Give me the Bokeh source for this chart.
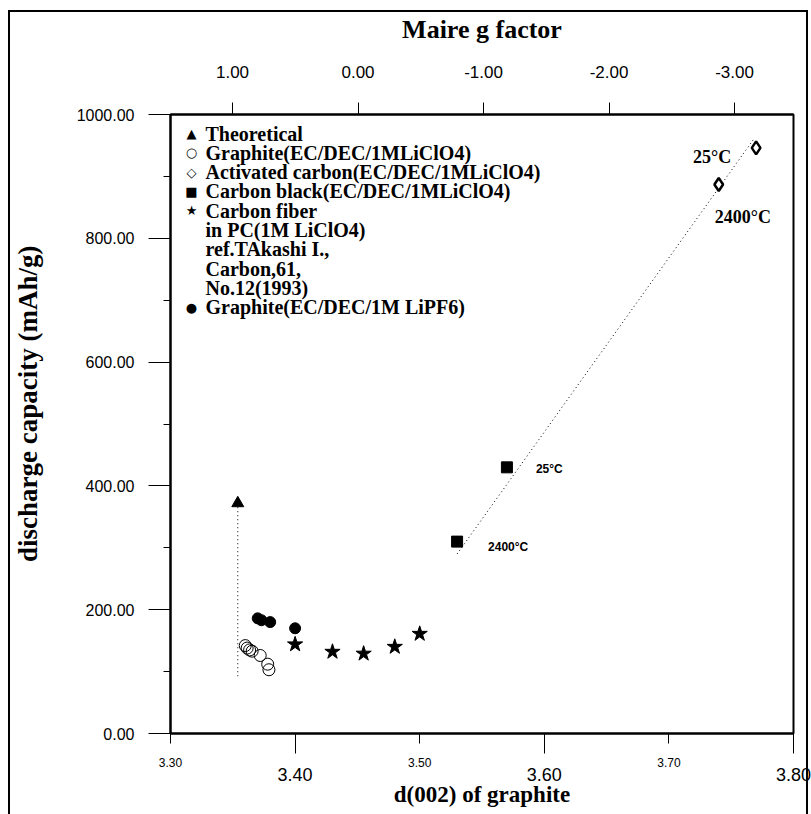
from bokeh.plotting import figure
from bokeh.models import (Range1d, LinearAxis, FixedTicker, NumeralTickFormatter, Label)
from bokeh.embed import file_html
from bokeh.resources import INLINE

# ---------------- data ----------------
theory_d = [3.354]
theory_cap = [372]
theory_line_d = [3.354, 3.354]
theory_line_cap = [372, 90]

graphite_clo4_d = [3.360, 3.3615, 3.3635, 3.3655, 3.372, 3.378, 3.379]
graphite_clo4_cap = [142, 138, 135, 133, 126, 112, 103]

activated_d = [3.770, 3.740]
activated_cap = [946, 887]
activated_temps = ["25°C", "2400°C"]

black_d = [3.570, 3.530]
black_cap = [430, 310]
black_temps = ["25°C", "2400°C"]

fiber_d = [3.400, 3.430, 3.455, 3.480, 3.500]
fiber_cap = [144, 132, 129, 140, 161]

graphite_pf6_d = [3.370, 3.373, 3.380, 3.400]
graphite_pf6_cap = [186, 183, 180, 170]

fit_d = [3.530, 3.768]
fit_cap = [290, 960]

x_lo, x_hi = 3.30, 3.80
y_lo, y_hi = 0, 1000
x_small_ticks = [3.30, 3.50, 3.70]
x_big_ticks = [3.40, 3.60, 3.80]
y_ticks = [0, 200, 400, 600, 800, 1000]
y_minor_ticks = [100, 300, 500, 700, 900]
g_ticks = [1.0, 0.0, -1.0, -2.0, -3.0]

legend_labels = ["Theoretical",
                 "Graphite(EC/DEC/1MLiClO4)",
                 "Activated carbon(EC/DEC/1MLiClO4)",
                 "Carbon black(EC/DEC/1MLiClO4)",
                 "Carbon fiber",
                 "in PC(1M LiClO4)",
                 "ref.TAkashi I.,",
                 "Carbon,61,",
                 "No.12(1993)",
                 "Graphite(EC/DEC/1M LiPF6)"]
legend_symbols = ["▲", "○", "◇", "■", "★", "", "", "", "", "●"]

SERIF = "Liberation Serif"
SANS = "Liberation Sans"

# ---------------- figure ----------------
p = figure(width=811, height=814,
           x_range=Range1d(x_lo, x_hi), y_range=Range1d(y_lo, y_hi),
           output_backend="svg", toolbar_location=None,
           min_border_left=170, min_border_right=18,
           min_border_top=114, min_border_bottom=81)
p.grid.visible = False
p.outline_line_color = "black"
p.outline_line_width = 2
p.background_fill_color = "white"
p.border_fill_color = None
p.styles = {"box-shadow": ("inset 8px 0 0 0 white, inset 0 10px 0 0 white, "
                           "inset -3px 0 0 0 white, inset 10px 0 0 0 black, "
                           "inset 0 12px 0 0 black, inset -5px 0 0 0 black"),
            "background-color": "white"}

# bottom axis: small labels (3.30, 3.50, 3.70) with short ticks, long ticks at 3.40/3.60/3.80
xa = p.xaxis[0]
xa.ticker = FixedTicker(ticks=x_small_ticks, minor_ticks=x_big_ticks)
xa.formatter = NumeralTickFormatter(format="0.00")
xa.axis_line_color = "black"
xa.axis_line_width = 2
xa.major_tick_in = 0
xa.major_tick_out = 10
xa.minor_tick_in = 0
xa.minor_tick_out = 20
xa.major_tick_line_color = "black"
xa.minor_tick_line_color = "black"
xa.major_label_standoff = 4
xa.major_label_text_font = SANS
xa.major_label_text_font_size = "12px"
xa.major_label_text_color = "black"

xa2 = LinearAxis(ticker=FixedTicker(ticks=x_big_ticks),
                 formatter=NumeralTickFormatter(format="0.00"),
                 axis_line_color=None, major_tick_line_color=None,
                 minor_tick_line_color=None, major_tick_in=0, major_tick_out=0,
                 major_label_standoff=-2,
                 major_label_text_font=SANS, major_label_text_font_size="18px",
                 major_label_text_color="black",
                 axis_label="d(002) of graphite", axis_label_standoff=-2,
                 axis_label_text_font=SERIF, axis_label_text_font_style="bold",
                 axis_label_text_font_size="23px", axis_label_text_color="black")
p.add_layout(xa2, "below")

# top axis: Maire g factor
p.extra_x_ranges = {"g": Range1d(start=1.494, end=-3.47)}
ta = LinearAxis(x_range_name="g", ticker=FixedTicker(ticks=g_ticks),
                formatter=NumeralTickFormatter(format="0.00"),
                axis_line_color="black", axis_line_width=2,
                major_tick_in=0, major_tick_out=12, major_tick_line_color="black",
                minor_tick_line_color=None,
                major_label_standoff=25, major_label_text_font=SANS,
                major_label_text_font_size="17px", major_label_text_color="black",
                axis_label="Maire g factor", axis_label_standoff=19,
                axis_label_text_font=SERIF, axis_label_text_font_style="bold",
                axis_label_text_font_size="26px", axis_label_text_color="black")
p.add_layout(ta, "above")

# left axis
ya = p.yaxis[0]
ya.ticker = FixedTicker(ticks=y_ticks, minor_ticks=y_minor_ticks)
ya.formatter = NumeralTickFormatter(format="0.00")
ya.axis_line_color = "black"
ya.axis_line_width = 2
ya.major_tick_in = 0
ya.major_tick_out = 22
ya.minor_tick_in = 0
ya.minor_tick_out = 7
ya.major_tick_line_color = "black"
ya.minor_tick_line_color = "black"
ya.major_label_standoff = 14
ya.major_label_text_font = SANS
ya.major_label_text_font_size = "16px"
ya.major_label_text_color = "black"
ya.axis_label = "\u00a0" * 6 + "discharge capacity (mAh/g)"
ya.axis_label_standoff = 31
ya.axis_label_text_font = SERIF
ya.axis_label_text_font_style = "bold"
ya.axis_label_text_font_size = "27px"
ya.axis_label_text_color = "black"

# ---------------- glyphs ----------------
p.line(theory_line_d, theory_line_cap, line_color="black", line_width=1, line_dash="1 3")
p.line(fit_d, fit_cap, line_color="black", line_width=1, line_dash="1 3")

p.scatter(theory_d, theory_cap, marker="triangle", size=12,
          fill_color="black", line_color="black")
p.scatter(graphite_clo4_d, graphite_clo4_cap, marker="circle", size=12,
          fill_color=None, line_color="black", line_width=1)
p.scatter(activated_d, activated_cap, marker="diamond", size=13,
          fill_color="white", line_color="black", line_width=2.5)
p.scatter(black_d, black_cap, marker="square", size=11,
          fill_color="black", line_color="black")
p.scatter(fiber_d, fiber_cap, marker="star", size=16,
          fill_color="black", line_color="black")
p.scatter(graphite_pf6_d, graphite_pf6_cap, marker="circle", size=11,
          fill_color="black", line_color="black")

# temperature labels anchored at their points
for (d, c, t, dx, dy) in zip(activated_d, activated_cap, activated_temps, [-63, -4], [-9, -33]):
    p.add_layout(Label(x=d, y=c, x_offset=dx, y_offset=dy, text=t,
                       text_align="left", text_baseline="middle",
                       text_font=SERIF, text_font_style="bold",
                       text_font_size="18px", text_color="black"))
for (d, c, t, dx, dy) in zip(black_d, black_cap, black_temps, [29, 31], [-2, -5]):
    p.add_layout(Label(x=d, y=c, x_offset=dx, y_offset=dy, text=t,
                       text_align="left", text_baseline="middle",
                       text_font=SANS, text_font_style="bold",
                       text_font_size="12px", text_color="black"))

# ---------------- legend (key in the top-left corner of the frame) ----------------
LEG_TOP = -19      # px below frame top for the first line
LEG_STEP = 19.3    # line spacing in px
for i, (sym, txt) in enumerate(zip(legend_symbols, legend_labels)):
    yoff = LEG_TOP - i * LEG_STEP
    if sym:
        p.add_layout(Label(x=x_lo, y=y_hi, x_offset=21, y_offset=yoff, text=sym,
                           text_align="center", text_baseline="middle",
                           text_font="DejaVu Sans", text_font_style="bold",
                           text_font_size="13px", text_color="black"))
    p.add_layout(Label(x=x_lo, y=y_hi, x_offset=35, y_offset=yoff, text=txt,
                       text_align="left", text_baseline="middle",
                       text_font=SERIF, text_font_style="bold",
                       text_font_size="20px", text_color="black"))

open("out.html", "w").write(file_html(p, INLINE))
